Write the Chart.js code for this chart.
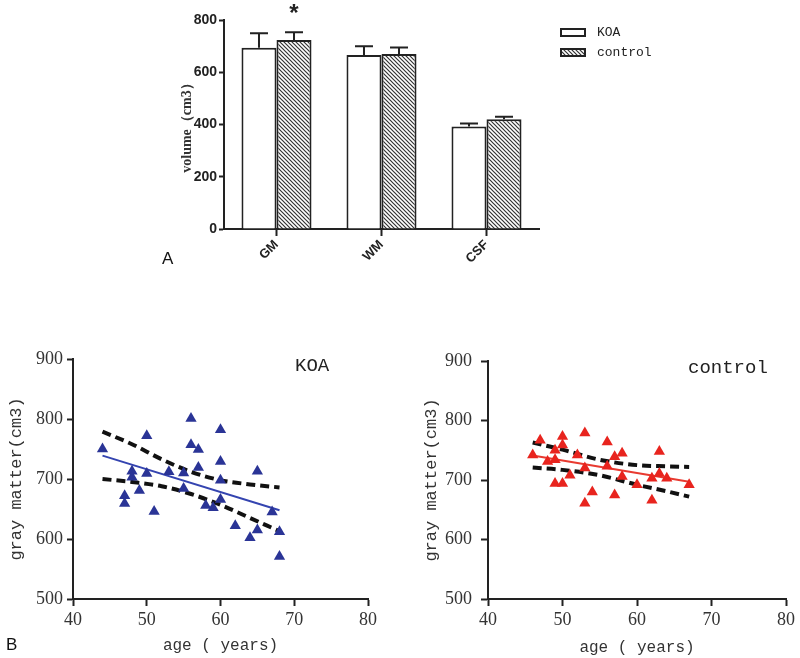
<!DOCTYPE html>
<html lang="en">
<head>
<meta charset="UTF-8">
<title>KOA gray matter volume</title>
<script src="https://cdn.jsdelivr.net/npm/chart.js"></script>
<style>
  body { margin: 0; width: 800px; height: 658px; background: #fff; position: relative; overflow: hidden; }
  canvas { position: absolute; }
  .lbl { position: absolute; font-family: "Liberation Sans", Arial, sans-serif; font-size: 17px; color: #111; line-height: 1; }
  .grp { position: absolute; font-family: "Liberation Mono", monospace; font-size: 19px; color: #222; line-height: 1; }
</style>
</head>
<body>
<canvas id="chartA" width="520" height="270" style="left:150px; top:0px;"></canvas>
<canvas id="chartKOA" width="400" height="318" style="left:0px; top:340px;"></canvas>
<canvas id="chartCtl" width="400" height="318" style="left:400px; top:340px;"></canvas>
<div class="lbl" style="left:162px; top:250px;">A</div>
<div class="lbl" style="left:6px; top:636px;">B</div>
<div class="grp" style="left:295px; top:357px;">KOA</div>
<div class="grp" style="left:688px; top:359px;">control</div>
<script>
// panel A: tissue volumes
const tissues = ["GM", "WM", "CSF"];
const koaVolume = [694, 666, 392];
const koaSD = [55, 34, 12];
const ctlVolume = [723, 670, 420];
const ctlSD = [30, 25, 10];
const ctlMark = ["*", "", ""];
const volumeTicks = [0, 200, 400, 600, 800];

// panel B: gray matter vs age
const koaAge = [44, 50, 56, 60, 56, 57, 60, 57, 65, 48, 48, 50, 53, 55, 60, 55, 49, 47, 47, 51, 60, 58, 59, 62, 67, 64, 65, 68, 68];
const koaGM  = [750, 772, 801, 782, 757, 749, 729, 719, 713, 713, 703, 709, 712, 710, 698, 684, 681, 672, 659, 646, 666, 656, 652, 622, 645, 602, 615, 612, 571];
const koaFitAge = [44, 68];
const koaFit = [739, 648];
const koaBandAge = [44, 48, 52, 56, 60, 64, 68];
const koaUpper = [779, 758, 733, 712, 698, 691, 686];
const koaLower = [700, 695, 688, 675, 657, 635, 613];

const ctlAge = [46, 47, 50, 50, 49, 49, 48, 52, 53, 53, 56, 56, 57, 58, 58, 49, 50, 51, 54, 53, 57, 60, 62, 62, 63, 63, 64, 67];
const ctlGM  = [742, 767, 773, 759, 750, 734, 731, 742, 779, 720, 764, 723, 739, 745, 706, 694, 694, 708, 680, 661, 675, 692, 666, 703, 748, 711, 703, 692];
const ctlFitAge = [46, 67];
const ctlFit = [741, 697];
const ctlBandAge = [46, 50, 55, 60, 64, 67];
const ctlUpper = [763, 751, 734, 725, 723, 722];
const ctlLower = [721, 717, 708, 692, 681, 672];

const ageTicks = [40, 50, 60, 70, 80];
const gmTicks = [500, 600, 700, 800, 900];

Chart.defaults.font.family = '"Liberation Sans", Arial, sans-serif';
Chart.defaults.color = '#222';

function hatch() {
  const c = document.createElement('canvas');
  c.width = 4; c.height = 4;
  const g = c.getContext('2d');
  g.fillStyle = '#fff';
  g.fillRect(0, 0, 4, 4);
  g.strokeStyle = '#333';
  g.lineWidth = 1.2;
  g.beginPath();
  g.moveTo(0, 0); g.lineTo(4, 4);
  g.moveTo(-1, 3); g.lineTo(1, 5);
  g.moveTo(3, -1); g.lineTo(5, 1);
  g.stroke();
  return g.createPattern(c, 'repeat');
}

// upward error bars + significance mark
const errorBars = {
  id: 'errorBars',
  afterDatasetsDraw(chart) {
    const ctx = chart.ctx, y = chart.scales.y;
    chart.data.datasets.forEach((ds, i) => {
      chart.getDatasetMeta(i).data.forEach((bar, j) => {
        const top = y.getPixelForValue(ds.data[j] + ds.sd[j]);
        ctx.save();
        ctx.strokeStyle = '#222';
        ctx.lineWidth = 2;
        ctx.beginPath();
        ctx.moveTo(bar.x, bar.y);
        ctx.lineTo(bar.x, top);
        ctx.moveTo(bar.x - 9, top);
        ctx.lineTo(bar.x + 9, top);
        ctx.stroke();
        if (ds.mark && ds.mark[j]) {
          ctx.fillStyle = '#222';
          ctx.font = 'bold 24px "Liberation Sans"';
          ctx.textAlign = 'center';
          ctx.fillText(ds.mark[j], bar.x, top - 11);
        }
        ctx.restore();
      });
    });
  }
};

const boxLegend = {
  id: 'boxLegend',
  afterDraw(chart) {
    const ctx = chart.ctx, area = chart.chartArea;
    chart.data.datasets.forEach((ds, i) => {
      const x = area.right + 22, yc = 32 + i * 20;
      ctx.save();
      ctx.fillStyle = ds.backgroundColor;
      ctx.fillRect(x, yc - 3, 24, 7);
      ctx.strokeStyle = '#222';
      ctx.lineWidth = 2;
      ctx.strokeRect(x, yc - 3, 24, 7);
      ctx.fillStyle = '#222';
      ctx.font = '13px "Liberation Mono"';
      ctx.textBaseline = 'middle';
      ctx.fillText(ds.label, x + 36, yc + 1);
      ctx.restore();
    });
  }
};

new Chart(document.getElementById('chartA'), {
  type: 'bar',
  data: {
    labels: tissues,
    datasets: [
      { label: 'KOA', data: koaVolume, sd: koaSD, backgroundColor: '#fff', borderColor: '#222', borderWidth: 2 },
      { label: 'control', data: ctlVolume, sd: ctlSD, mark: ctlMark, backgroundColor: hatch(), borderColor: '#222', borderWidth: 2 }
    ]
  },
  options: {
    responsive: false,
    animation: false,
    layout: { padding: { top: 20, right: 131, left: 0, bottom: 0 } },
    datasets: { bar: { categoryPercentage: 0.667, barPercentage: 1 } },
    plugins: { legend: { display: false }, tooltip: { enabled: false } },
    scales: {
      x: {
        grid: { offset: false, drawOnChartArea: false, tickLength: 7, tickWidth: 2, color: '#222' },
        border: { color: '#222', width: 2 },
        ticks: { minRotation: 45, maxRotation: 45, padding: 1, font: { size: 13, weight: 'bold' } },
        afterFit: s => { s.height = 41; }
      },
      y: {
        min: 0, max: 800,
        afterBuildTicks: s => { s.ticks = volumeTicks.map(v => ({ value: v })); },
        grid: { drawOnChartArea: false, tickLength: 5, tickWidth: 2, color: '#222' },
        border: { color: '#222', width: 2 },
        ticks: { padding: 2, font: { size: 14, weight: 'bold' } },
        title: { display: true, text: 'volume（cm3）', color: '#333', padding: { top: 29, bottom: 0 },
                 font: { family: '"Liberation Serif", serif', size: 14, weight: 'bold' } },
        afterFit: s => { s.width = 74; }
      }
    }
  },
  plugins: [errorBars, boxLegend]
});

function toPts(xs, ys) {
  return xs.map((x, i) => ({ x: x, y: ys[i] }));
}

function scatterPanel(id, ages, gm, color, fitAge, fit, lineColor, bandAge, upper, lower, box) {
  const dashed = { borderColor: '#111', borderWidth: 4, borderDash: [9, 5], showLine: true,
                   pointRadius: 0, cubicInterpolationMode: 'monotone', fill: false };
  new Chart(document.getElementById(id), {
    type: 'scatter',
    data: {
      datasets: [
        { data: toPts(ages, gm), pointStyle: 'triangle', pointRadius: 6.5, backgroundColor: color, borderWidth: 0 },
        { data: toPts(fitAge, fit), showLine: true, pointRadius: 0, borderColor: lineColor, borderWidth: 2 },
        Object.assign({ data: toPts(bandAge, upper) }, dashed),
        Object.assign({ data: toPts(bandAge, lower) }, dashed)
      ]
    },
    options: {
      responsive: false,
      animation: false,
      layout: { padding: { top: box.top, right: box.right, left: 0, bottom: 0 } },
      plugins: { legend: { display: false }, tooltip: { enabled: false } },
      scales: {
        x: {
          min: 40, max: 80,
          afterBuildTicks: s => { s.ticks = ageTicks.map(v => ({ value: v })); },
          grid: { drawOnChartArea: false, tickLength: 7, tickWidth: 2, color: '#222' },
          border: { color: '#222', width: 2 },
          ticks: { padding: 3, color: '#333', font: { family: '"Liberation Serif", serif', size: 18 } },
          title: { display: true, text: 'age ( years)', color: '#333', padding: { top: 0, bottom: box.xTitlePad },
                   font: { family: '"Liberation Mono", monospace', size: 16 } },
          afterFit: s => { s.height = 59; }
        },
        y: {
          min: 500, max: 900,
          afterBuildTicks: s => { s.ticks = gmTicks.map(v => ({ value: v })); },
          grid: { drawOnChartArea: false, tickLength: box.tick, tickWidth: 2, color: '#222' },
          border: { color: '#222', width: 2 },
          ticks: { padding: box.tickPad, color: '#333', font: { family: '"Liberation Serif", serif', size: 18 } },
          title: { display: true, text: 'gray matter(cm3)', color: '#333', padding: { top: box.yTitlePad, bottom: 0 },
                   font: { family: '"Liberation Mono", monospace', size: 17 } },
          afterFit: s => { s.width = box.yWidth; }
        }
      }
    }
  });
}

scatterPanel('chartKOA', koaAge, koaGM, '#2a3496', koaFitAge, koaFit, '#3444b0', koaBandAge, koaUpper, koaLower,
  { top: 19, right: 32, yWidth: 73, tick: 6, tickPad: 4, yTitlePad: 6, xTitlePad: 3 });
scatterPanel('chartCtl', ctlAge, ctlGM, '#e8241e', ctlFitAge, ctlFit, '#e83a30', ctlBandAge, ctlUpper, ctlLower,
  { top: 21, right: 14, yWidth: 88, tick: 7, tickPad: 9, yTitlePad: 21, xTitlePad: 1 });
</script>
</body>
</html>
